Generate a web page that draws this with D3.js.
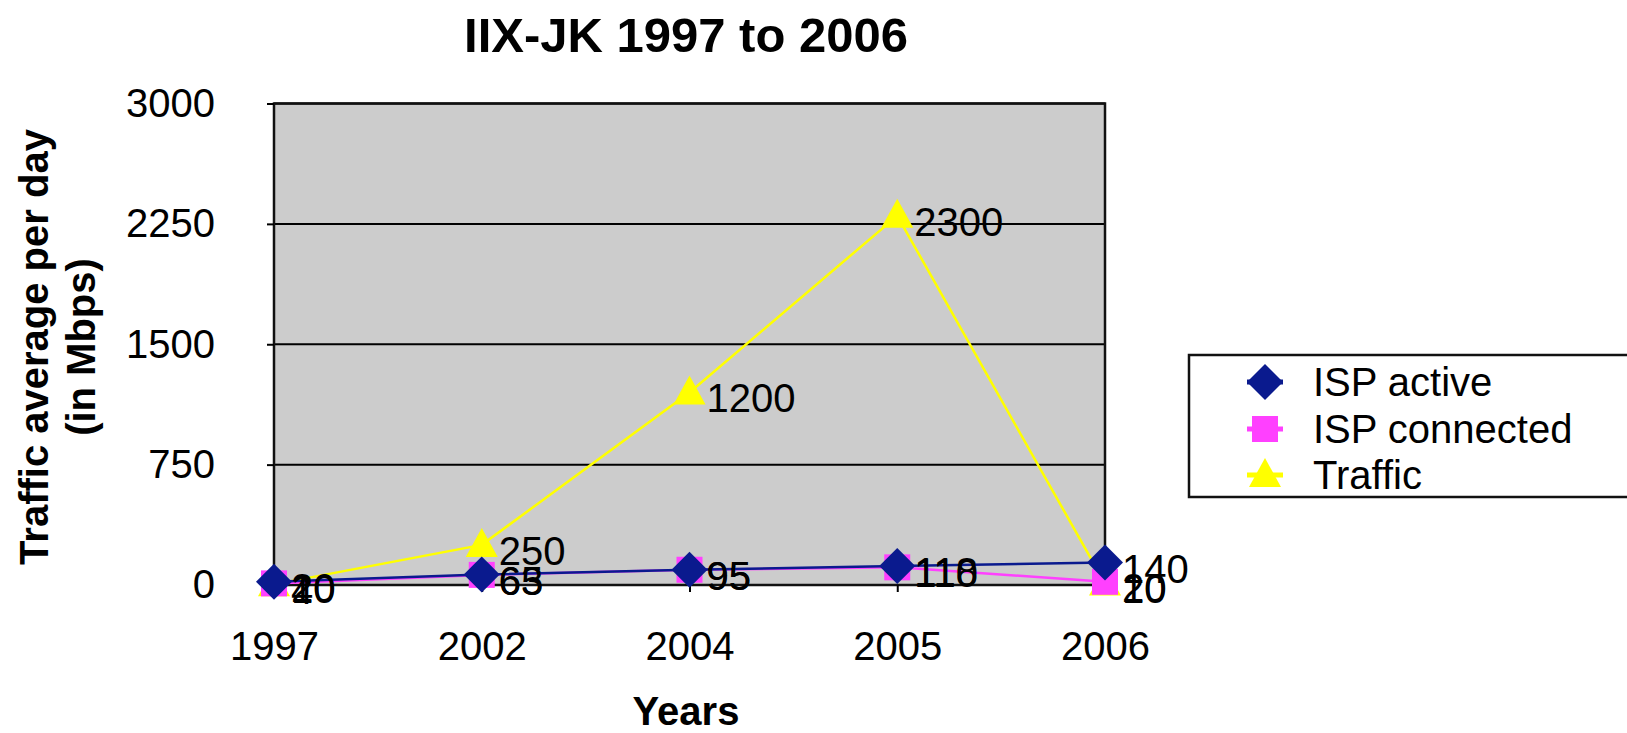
<!DOCTYPE html>
<html><head><meta charset="utf-8">
<script src="https://cdn.jsdelivr.net/npm/d3@7/dist/d3.min.js"></script>
<style>body{margin:0;background:#fff}svg{display:block;font-family:"Liberation Sans",Arial,sans-serif}</style>
</head><body><svg id="c" width="1627" height="733"></svg>
<script>
const years = ["1997","2002","2004","2005","2006"];
const ispActive = [20, 65, 95, 118, 140];
const ispConnected = [10, 63, 95, 110, 20];
const traffic = [4, 250, 1200, 2300, 10];
const yTicks = [0, 750, 1500, 2250, 3000];
const seriesNames = ["ISP active", "ISP connected", "Traffic"];

const svg = d3.select("#c");
const L = 274, R = 1105, T = 103.5, B = 585;
const x = d3.scalePoint().domain(years).range([L, R]).padding(0);
const y = d3.scaleLinear().domain([0, 3000]).range([B, T]);

const series = [
  {name: seriesNames[0], values: ispActive, color: "#0A1A8E", shape: "diamond"},
  {name: seriesNames[1], values: ispConnected, color: "#FF40FF", shape: "square"},
  {name: seriesNames[2], values: traffic, color: "#FFFF00", shape: "triangle"}
];

function marker(g, shape, color, cx, cy) {
  if (shape === "diamond") {
    g.append("path").attr("d", `M${cx},${cy-18}L${cx+18},${cy}L${cx},${cy+18}L${cx-18},${cy}Z`).attr("fill", color);
  } else if (shape === "square") {
    g.append("rect").attr("x", cx-13).attr("y", cy-13).attr("width", 26).attr("height", 26).attr("fill", color);
  } else {
    g.append("path").attr("d", `M${cx},${cy-17}L${cx+16},${cy+12}L${cx-16},${cy+12}Z`).attr("fill", color);
  }
}

// plot background
svg.append("rect").attr("x", L).attr("y", T).attr("width", R-L).attr("height", B-T).attr("fill", "#CCCCCC");

// gridlines
svg.append("g").selectAll("line").data(yTicks.filter(d => d > 0)).join("line")
  .attr("x1", L).attr("x2", R).attr("y1", d => y(d)).attr("y2", d => y(d))
  .attr("stroke", "#000").attr("stroke-width", 2);

// border
svg.append("rect").attr("x", L).attr("y", T).attr("width", R-L).attr("height", B-T)
  .attr("fill", "none").attr("stroke", "#111").attr("stroke-width", 2.5);

// y axis
const yAxis = svg.append("g").attr("transform", `translate(${L},0)`)
  .call(d3.axisLeft(y).tickValues(yTicks).tickSize(7).tickPadding(52).tickFormat(d3.format("d")));
yAxis.select(".domain").remove();
yAxis.selectAll(".tick line").attr("stroke", "#000").attr("stroke-width", 2);
yAxis.selectAll("text").attr("font-size", 40).attr("fill", "#000").attr("font-family", "Liberation Sans, Arial, sans-serif");

// x axis
const xAxis = svg.append("g").attr("transform", `translate(0,${B})`)
  .call(d3.axisBottom(x).tickSize(7).tickPadding(40));
xAxis.select(".domain").remove();
xAxis.selectAll(".tick line").attr("stroke", "#000").attr("stroke-width", 2);
xAxis.selectAll("text").attr("font-size", 40).attr("fill", "#000").attr("font-family", "Liberation Sans, Arial, sans-serif");

// lines and markers (draw Traffic first, active last)
const line = d3.line().x((d, i) => x(years[i])).y(d => y(d));
const drawOrder = [2, 1, 0];
drawOrder.forEach(si => {
  const s = series[si];
  svg.append("path").datum(s.values).attr("d", line).attr("fill", "none")
    .attr("stroke", s.color).attr("stroke-width", 2.5);
});
drawOrder.forEach(si => {
  const s = series[si];
  const g = svg.append("g");
  s.values.forEach((v, i) => marker(g, s.shape, s.color, x(years[i]), y(v)));
});
// data labels
drawOrder.forEach(si => {
  const s = series[si];
  svg.append("g").selectAll("text").data(s.values).join("text")
    .attr("x", (d, i) => x(years[i]) + 17)
    .attr("y", d => y(d) + 20)
    .attr("font-size", 40).attr("fill", "#000")
    .text(d => d);
});

// title
svg.append("text").attr("x", 686).attr("y", 52).attr("text-anchor", "middle")
  .attr("font-size", 49).attr("font-weight", "bold").text("IIX-JK 1997 to 2006");

// x title
svg.append("text").attr("x", 686).attr("y", 725).attr("text-anchor", "middle")
  .attr("font-size", 40).attr("font-weight", "bold").text("Years");

// y title
const yt = svg.append("text").attr("transform", "translate(34,347) rotate(-90)")
  .attr("text-anchor", "middle").attr("font-size", 40).attr("font-weight", "bold");
yt.append("tspan").attr("x", 0).attr("y", 14).text("Traffic average per day");
yt.append("tspan").attr("x", 0).attr("y", 61).text("(in Mbps)");

// legend
const lg = svg.append("g");
lg.append("rect").attr("x", 1189).attr("y", 355).attr("width", 460).attr("height", 142)
  .attr("fill", "#fff").attr("stroke", "#111").attr("stroke-width", 2.5);
const rowY = [382, 429, 475];
series.forEach((s, i) => {
  const cy = rowY[i];
  lg.append("line").attr("x1", 1247).attr("x2", 1283).attr("y1", cy).attr("y2", cy)
    .attr("stroke", s.color).attr("stroke-width", 5);
  marker(lg, s.shape, s.color, 1265, cy);
  lg.append("text").attr("x", 1313).attr("y", cy + 14).attr("font-size", 40).text(s.name);
});
</script></body></html>
